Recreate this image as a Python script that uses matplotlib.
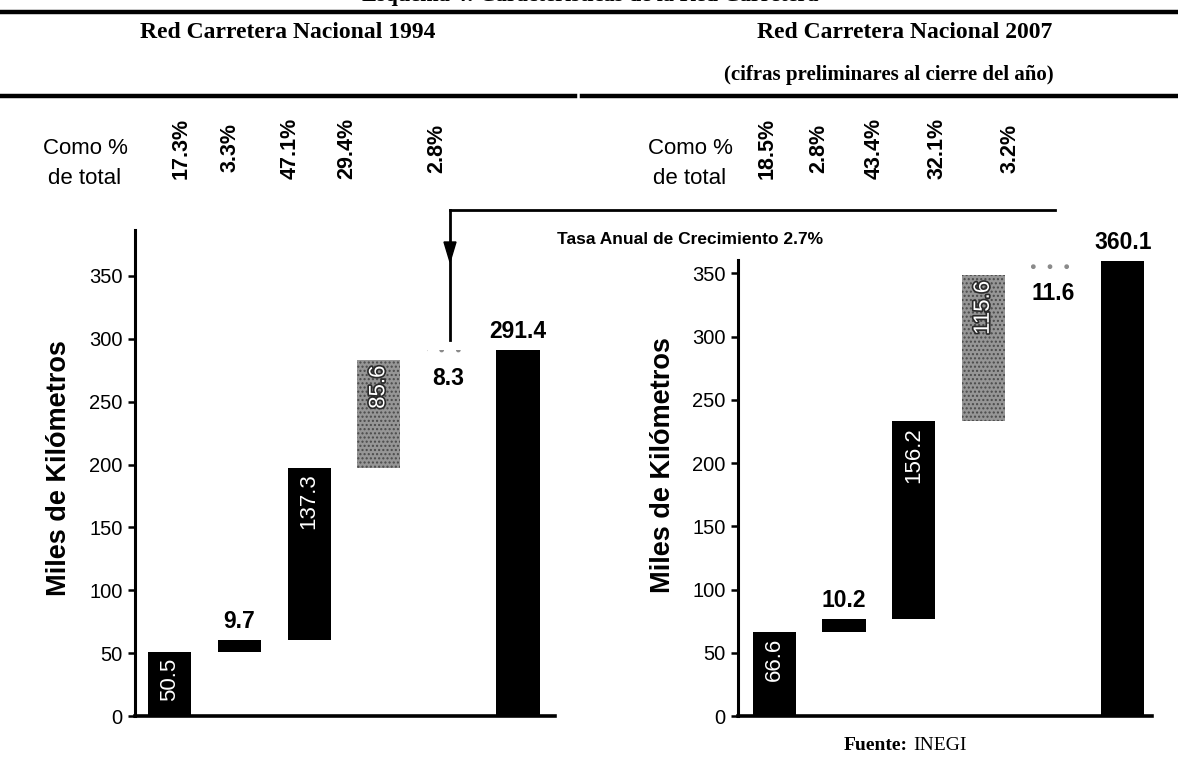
import matplotlib
matplotlib.use("Agg")
import matplotlib.pyplot as plt
import matplotlib.patheffects as pe
from matplotlib.lines import Line2D
from matplotlib.patches import Polygon
import numpy as np

W, H, DPI = 1178, 760, 100

# Componentes de la red carretera (miles de km)
categorias = ["Troncal federal", "Autopistas de cuota", "Alimentadoras estatales",
              "Caminos rurales", "Brechas mejoradas", "Total"]
km_1994 = [50.5, 9.7, 137.3, 85.6, 8.3, 291.4]
km_2007 = [66.6, 10.2, 156.2, 115.6, 11.6, 360.1]
pct_1994 = ["17.3%", "3.3%", "47.1%", "29.4%", "2.8%"]
pct_2007 = ["18.5%", "2.8%", "43.4%", "32.1%", "3.2%"]
yticks = [0, 50, 100, 150, 200, 250, 300, 350]

SANS = ["Liberation Sans", "DejaVu Sans"]
SERIF = ["Liberation Serif", "DejaVu Serif"]
plt.rcParams["font.family"] = SANS


def fx(x):
    return x / W


def fy(y):
    return 1 - y / H


fig = plt.figure(figsize=(W / DPI, H / DPI), dpi=DPI)
fig.patch.set_facecolor("white")

# estilo de cada barra: tipo de relleno y posición de la etiqueta
estilos = ["negra_dentro", "negra_arriba", "negra_dentro", "gris_dentro", "punteada_abajo", "negra_arriba"]


def waterfall(ax, valores, ymax, ylabel_y):
    x = np.arange(len(valores))
    bases = list(np.concatenate([[0], np.cumsum(valores[:-2])])) + [0]
    for i, (v, b, st) in enumerate(zip(valores, bases, estilos)):
        if st.startswith("negra"):
            ax.bar(x[i], v, bottom=b, width=0.62, color="black", zorder=2)
        elif st.startswith("gris"):
            ax.bar(x[i], v, bottom=b, width=0.62, color="#969696",
                   edgecolor="#4a4a4a", hatch="....", linewidth=0, zorder=2)
        else:
            ax.bar(x[i], v, bottom=b, width=0.62, color="white",
                   edgecolor="#8a8a8a", hatch=".", linewidth=0, zorder=2)
        etiqueta = f"{v:.1f}"
        if st.endswith("arriba"):
            ax.annotate(etiqueta, (x[i], b + v), xytext=(0, 5), textcoords="offset points",
                        ha="center", va="bottom", fontsize=16.5, fontweight="bold", zorder=3)
        elif st.endswith("abajo"):
            ax.annotate(etiqueta, (x[i], b), xytext=(0, -5), textcoords="offset points",
                        ha="center", va="top", fontsize=16.5, fontweight="bold", zorder=3)
        else:
            efectos = None
            if st.startswith("gris"):
                efectos = [pe.withStroke(linewidth=2.4, foreground="#2a2a2a")]
            ax.annotate(etiqueta, (x[i], b + v), xytext=(0, -4), textcoords="offset points",
                        ha="center", va="top", rotation=90, fontsize=16, color="white",
                        path_effects=efectos, zorder=3)
    ax.set_ylim(0, ymax)
    ax.set_yticks(yticks)
    ax.set_xticks([])
    for s in ("top", "right"):
        ax.spines[s].set_visible(False)
    ax.spines["left"].set_linewidth(2.2)
    ax.spines["bottom"].set_linewidth(2.6)
    ax.tick_params(axis="y", direction="out", length=5, width=1.8, labelsize=14.5, pad=4)
    ax.set_ylabel("Miles de Kilómetros", fontsize=19.5, fontweight="bold")
    ax.yaxis.set_label_coords(-0.15, ylabel_y)


ax1 = fig.add_axes([fx(135), fy(716), (555 - 135) / W, (716 - 230) / H])
waterfall(ax1, km_1994, 386.5, 0.51)
ax1.set_xlim(-0.5, 5.53)

ax2 = fig.add_axes([fx(738), fy(716), (1152 - 738) / W, (716 - 260) / H])
waterfall(ax2, km_2007, 360.5, 0.55)
ax2.set_xlim(-0.52, 5.42)

# Encabezados
fig.text(fx(590), fy(-4), "Esquema 4: Características de la Red Carretera",
         ha="center", va="center", fontsize=16, fontweight="bold", family=SERIF)
fig.add_artist(Line2D([0, 1], [fy(12), fy(12)], color="black", lw=3.2))
fig.text(fx(288), fy(32), "Red Carretera Nacional 1994", ha="center", va="center",
         fontsize=17, fontweight="bold", family=SERIF)
fig.text(fx(905), fy(32), "Red Carretera Nacional 2007", ha="center", va="center",
         fontsize=17, fontweight="bold", family=SERIF)
fig.text(fx(889), fy(75), "(cifras preliminares al cierre del año)", ha="center", va="center",
         fontsize=15, fontweight="bold", family=SERIF)
fig.add_artist(Line2D([0, fx(575)], [fy(96), fy(96)], color="black", lw=3.2))
fig.add_artist(Line2D([fx(582), 1], [fy(96), fy(96)], color="black", lw=3.2))

# Participación porcentual
for xc in (85, 690):
    fig.text(fx(xc), fy(148), "Como %", ha="center", va="center", fontsize=16)
    fig.text(fx(xc), fy(179), "de total", ha="center", va="center", fontsize=16)
for xs, pcts in (([181, 230, 290, 347, 437], pct_1994), ([767, 819, 874, 937, 1010], pct_2007)):
    for xp, p in zip(xs, pcts):
        fig.text(fx(xp), fy(148), p, ha="center", va="center", rotation=90,
                 fontsize=15.5, fontweight="bold")

# Flecha de la tasa de crecimiento
fig.add_artist(Line2D([fx(450), fx(1055)], [fy(210), fy(210)], color="black", lw=2))
fig.add_artist(Line2D([fx(450), fx(450)], [fy(210), fy(340)], color="black", lw=2))
fig.add_artist(Polygon([[fx(444), fy(242)], [fx(456), fy(242)], [fx(450), fy(262)]],
                       closed=True, color="black", transform=fig.transFigure))
fig.text(fx(690), fy(240), "Tasa Anual de Crecimiento 2.7%", ha="center", va="center",
         fontsize=12.5, fontweight="bold")

# Fuente
fig.text(fx(908), fy(745), "Fuente:", ha="right", va="center", fontsize=14,
         fontweight="bold", family=SERIF)
fig.text(fx(913), fy(745), "INEGI", ha="left", va="center", fontsize=14, family=SERIF)

fig.savefig("out.png", dpi=DPI, facecolor="white")
